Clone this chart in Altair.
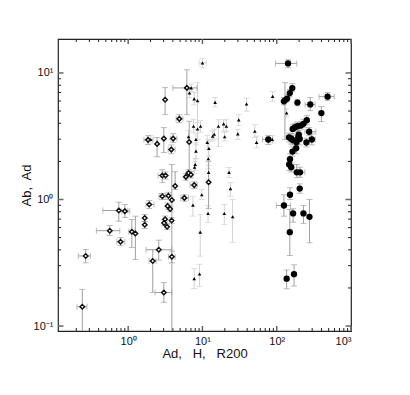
import altair as alt
import pandas as pd

# ---------------- data ----------------
# Series A: open diamonds
ax = [0.241, 0.268, 0.565, 0.789, 0.748, 0.902, 1.12, 1.25, 1.67, 1.67, 1.92, 2.58, 2.14, 3.02, 3.87,
      2.88, 3.48, 3.39, 3.67, 3.87, 3.14, 3.04, 3.34, 3.84, 5.71, 3.14, 4.88, 1.85, 2.45, 3.02,
      4.03, 3.81, 6.63, 2.88, 3.19, 4.29, 5.98, 6.49, 6.99, 7.74, 12.1, 6.17]
ay = [0.142, 0.358, 0.567, 0.464, 0.819, 0.809, 0.556, 0.539, 0.714, 0.631, 0.913, 0.401, 0.327, 0.184, 0.353,
      1.06, 1.07, 0.889, 0.841, 0.99, 0.698, 0.652, 0.610, 0.683, 1.03, 6.15, 4.34, 2.96, 2.75, 3.03,
      3.03, 2.48, 2.85, 1.55, 1.55, 1.28, 1.51, 1.62, 1.57, 1.30, 1.37, 7.62]
ax_lo = [0.204, 0.213, 0.373, 0.703, 0.455, 0.822, 1.02, None, None, None, 1.74, 1.74, 1.91, 2.30, 3.48,
         2.6, None, None, None, None, None, None, None, None, 5.12, None, 4.42, 1.63, None, None,
         3.67, 3.45, None, 2.52, None, None, None, None, None, 6.8, None, 3.99]
ax_hi = [0.279, 0.310, 0.772, 0.902, 0.99, 1.05, 1.23, None, None, None, 2.23, 3.87, 2.37, 3.87, 4.29,
         3.2, None, None, None, None, None, None, None, None, 6.49, None, 5.45, 2.16, None, None,
         4.52, 4.29, None, 3.14, None, None, None, None, None, 8.5, None, 8.43]
ay_lo = [0.05, 0.316, 0.520, 0.434, 0.674, 0.721, 0.418, 0.336, 0.670, 0.590, 0.849, 0.332, 0.184, 0.154, 0.316,
         1.0, 1.0, 0.84, 0.80, 0.05, 0.66, 0.62, 0.58, 0.65, 0.97, 4.69, 4.05, 2.72, 2.18, 2.35,
         2.82, 2.3, 1.67, 1.36, 1.45, 1.20, 1.42, 1.52, 1.48, 1.22, 0.85, 4.69]
ay_hi = [0.195, 0.403, 0.623, 0.501, 0.952, 0.913, 0.695, 0.738, 0.762, 0.670, 0.982, 0.477, 0.403, 0.221, 0.391,
         1.12, 1.14, 0.94, 0.88, 1.89, 0.74, 0.69, 0.64, 0.72, 1.09, 7.66, 4.69, 3.20, 3.09, 3.70,
         3.32, 2.7, 4.15, 1.72, 1.65, 1.66, 1.60, 1.72, 1.66, 1.38, 2.0, 10.6]

# Series B: small filled triangles
bx = [10.0, 7.05, 6.69, 7.74, 8.58, 14.8, 7.58, 8.58, 9.42, 16.4, 2.01, 6.49, 8.17, 11.6, 13.7,
      14.4, 12.2, 8.17, 8.0, 7.82, 12.0, 12.1, 9.79, 39.2, 88.1, 136, 19.3, 21.0, 30.8, 19.9,
      29.9, 50.7, 53.5, 87.2, 22.8, 23.8, 7.44, 11.9, 9.33, 19.7, 25.5, 7.74, 9.14]
by = [12.0, 7.62, 6.95, 6.24, 6.04, 5.86, 3.79, 3.61, 3.79, 3.79, 2.98, 3.13, 2.98, 2.83, 3.16,
      3.28, 2.53, 2.41, 1.89, 1.80, 2.10, 1.64, 1.09, 5.69, 6.53, 4.83, 3.96, 3.79, 4.26, 3.13,
      3.30, 3.46, 2.83, 2.98, 1.64, 1.22, 0.902, 0.776, 0.552, 0.776, 0.730, 0.237, 0.258]
bx_lo = [9.0] + [None] * 42
bx_hi = [11.3] + [None] * 42
by_lo = [11.0, 7.1, 6.4, 5.6, 3.57, 5.4, 3.4, 2.98, 3.4, 2.62, 2.8, 2.8, 2.7, 2.5, 2.9,
         3.0, 2.2, 2.1, 1.7, 1.6, 1.75, 1.45, 1.0, 4.98, 5.97, 4.5, 3.46, 3.46, 3.84, 2.9,
         2.98, 3.09, 2.56, 2.8, 1.49, 1.06, 0.739, 0.658, 0.357, 0.635, 0.458, 0.198, 0.206]
by_hi = [13.0, 8.2, 7.5, 7.0, 8.38, 6.4, 4.3, 4.05, 4.2, 4.27, 3.2, 3.5, 3.3, 3.2, 3.5,
         3.6, 2.9, 2.8, 2.1, 2.0, 2.98, 1.85, 1.2, 6.34, 7.16, 5.2, 4.27, 4.27, 4.69, 3.4,
         3.57, 3.9, 3.16, 3.2, 1.79, 1.36, 1.06, 0.897, 0.76, 0.913, 1.0, 0.285, 0.307]

# Series C: large filled circles
cx = [142, 162, 150, 138, 129, 125, 190, 283, 484, 399, 254, 229, 211, 190, 175,
      164, 273, 198, 195, 204, 146, 157, 164, 76.9, 297, 251, 184, 183, 163, 151,
      147, 157, 186, 206, 204, 151, 125, 166, 229, 276, 150, 136, 171]
cy = [11.9, 7.59, 6.93, 6.27, 6.08, 5.97, 5.83, 5.64, 6.50, 4.82, 4.23, 3.96, 3.84, 3.79, 3.72,
      3.61, 3.43, 3.26, 3.11, 3.01, 3.10, 3.02, 2.95, 2.98, 2.98, 2.82, 2.83, 2.54, 2.39, 2.08,
      1.89, 1.80, 1.64, 1.64, 1.22, 1.09, 0.897, 0.776, 0.776, 0.730, 0.552, 0.237, 0.257]
cx_lo = [96.6, None, None, None, None, None, None, 241, 372, None, None, None, None, None, None,
         None, 240, None, None, None, None, None, None, 64.4, 280, None, None, None, None, None,
         None, None, None, 186, None, None, 98.8, None, None, None, None, None, None]
cx_hi = [186, None, None, None, None, None, None, 329, 594, None, None, None, None, None, None,
         None, 336, None, None, None, None, None, None, 88.1, 330, None, None, None, None, None,
         None, None, None, 239, None, None, 154, None, None, None, None, None, None]
cy_lo = [11.0, 7.11, 6.5, 5.9, 2.98, 5.6, 5.5, 5.04, 6.04, 4.13, 3.9, 3.7, 3.6, 3.5, 3.45,
         3.3, 3.2, 3.0, 2.85, 2.7, 2.85, 2.75, 2.7, 2.72, 2.7, 2.6, 2.6, 2.3, 2.2, 1.9,
         1.7, 1.65, 1.49, 1.5, 1.12, 1.0, 0.738, 0.662, 0.647, 0.455, 0.361, 0.197, 0.207]
cy_hi = [12.7, 8.24, 7.4, 6.7, 8.38, 6.4, 6.2, 6.38, 6.99, 5.42, 4.6, 4.3, 4.1, 4.1, 4.0,
         3.9, 3.7, 3.5, 3.4, 3.3, 3.35, 3.3, 3.2, 3.2, 3.3, 3.05, 3.05, 2.8, 2.6, 2.3,
         2.1, 1.95, 1.89, 1.8, 1.33, 1.24, 1.09, 0.845, 0.897, 1.0, 0.834, 0.277, 0.305]

# axis tick values
x_major = [1, 10, 100, 1000]
x_minor = [0.2, 0.3, 0.4, 0.5, 0.6, 0.7, 0.8, 0.9, 2, 3, 4, 5, 6, 7, 8, 9,
           20, 30, 40, 50, 60, 70, 80, 90, 200, 300, 400, 500, 600, 700, 800, 900]
y_major = [0.1, 1, 10]
y_minor = [0.2, 0.3, 0.4, 0.5, 0.6, 0.7, 0.8, 0.9, 2, 3, 4, 5, 6, 7, 8, 9]

# ---------------- chart ----------------
W, H = 293, 292
FONT = "Liberation Sans"
xs = alt.Scale(type="log", domain=[0.1135, 1000], nice=False)
ys = alt.Scale(type="log", domain=[0.0914, 18.55], nice=False)

lab = ("'10' + (datum.value < 0.5 ? '\u207b\u00b9' : datum.value < 5 ? '\u2070' : "
       "datum.value < 50 ? '\u00b9' : datum.value < 500 ? '\u00b2' : '\u00b3')")

xaxis = alt.Axis(values=x_major, labelExpr=lab, ticks=False, domain=False, grid=False,
                 labelPadding=4, labelFont=FONT, labelFontSize=11, labelColor="#111",
                 title="Ad,\u00a0\u00a0 H,\u00a0\u00a0 R200", titleFont=FONT, titleFontSize=13,
                 titleFontWeight="normal", titleColor="#111", titlePadding=1)
yaxis = alt.Axis(values=y_major, labelExpr=lab, ticks=False, domain=False, grid=False,
                 labelPadding=5, labelFont=FONT, labelFontSize=11, labelColor="#111",
                 title="Ab,\u00a0 Ad", titleFont=FONT, titleFontSize=13,
                 titleFontWeight="normal", titleColor="#111", titlePadding=0)


def X(f):
    return alt.X(f, type="quantitative", scale=xs, axis=xaxis)


def Y(f):
    return alt.Y(f, type="quantitative", scale=ys, axis=yaxis)


def mk(x, y, xlo, xhi, ylo, yhi):
    return pd.DataFrame(dict(x=x, y=y, xlo=xlo, xhi=xhi, ylo=ylo, yhi=yhi))


dA = mk(ax, ay, ax_lo, ax_hi, ay_lo, ay_hi)
dB = mk(bx, by, bx_lo, bx_hi, by_lo, by_hi)
dC = mk(cx, cy, cx_lo, cx_hi, cy_lo, cy_hi)


def errors(d, color, width=1.0):
    dy = d.dropna(subset=["ylo", "yhi"])
    dx = d.dropna(subset=["xlo", "xhi"])
    out = []
    out.append(alt.Chart(dy).mark_rule(color=color, strokeWidth=width, clip=True).encode(
        x=X("x"), y=Y("ylo"), y2="yhi"))
    for f in ["ylo", "yhi"]:
        out.append(alt.Chart(dy).mark_tick(color=color, orient="horizontal", size=6,
                                           thickness=width, clip=True).encode(x=X("x"), y=Y(f)))
    if len(dx):
        out.append(alt.Chart(dx).mark_rule(color=color, strokeWidth=width, clip=True).encode(
            x=X("xlo"), x2="xhi", y=Y("y")))
        for f in ["xlo", "xhi"]:
            out.append(alt.Chart(dx).mark_tick(color=color, orient="vertical", size=6,
                                               thickness=width, clip=True).encode(x=X(f), y=Y("y")))
    return out


def ticks():
    out = []
    for vals, ln, col, sw in [(x_major, 5, "#666", 1.5), (x_minor, 3, "#222", 1.0)]:
        d = pd.DataFrame({"v": vals})
        out.append(alt.Chart(d).mark_rule(color=col, strokeWidth=sw).encode(
            x=X("v"), y=alt.value(H), y2=alt.value(H - ln)))
        out.append(alt.Chart(d).mark_rule(color=col, strokeWidth=sw).encode(
            x=X("v"), y=alt.value(0), y2=alt.value(ln)))
    for vals, ln, col, sw in [(y_major, 5.5, "#666", 1.5), (y_minor, 3, "#222", 1.0)]:
        d = pd.DataFrame({"v": vals})
        out.append(alt.Chart(d).mark_rule(color=col, strokeWidth=sw).encode(
            y=Y("v"), x=alt.value(0), x2=alt.value(ln)))
        out.append(alt.Chart(d).mark_rule(color=col, strokeWidth=sw).encode(
            y=Y("v"), x=alt.value(W), x2=alt.value(W - ln)))
    return out


layers = []
layers += ticks()
layers += errors(dB, "#d2d2d2", 1.0)
layers += errors(dA, "#a0a0a0", 1.0)
layers += errors(dC, "#a0a0a0", 1.0)

layers.append(alt.Chart(dB).mark_point(shape="triangle-up", filled=True, color="#000",
                                       size=13, opacity=1, clip=True).encode(x=X("x"), y=Y("y")))
layers.append(alt.Chart(dA).mark_point(shape="diamond", filled=True, fill="white", stroke="#111",
                                       strokeWidth=1.5, size=20, opacity=1, clip=True).encode(x=X("x"), y=Y("y")))
layers.append(alt.Chart(dC).mark_point(shape="circle", filled=True, color="#000",
                                       size=40, opacity=1, clip=True).encode(x=X("x"), y=Y("y")))

chart = alt.layer(*layers).properties(
    width=W, height=H,
    autosize=alt.AutoSizeParams(type="none"),
    padding={"left": 50, "top": 31, "right": 30, "bottom": 50},
    background="white",
).configure_view(stroke="#222", strokeWidth=1.2)

chart.save("out.html", embed_options={"renderer": "svg", "actions": False})
